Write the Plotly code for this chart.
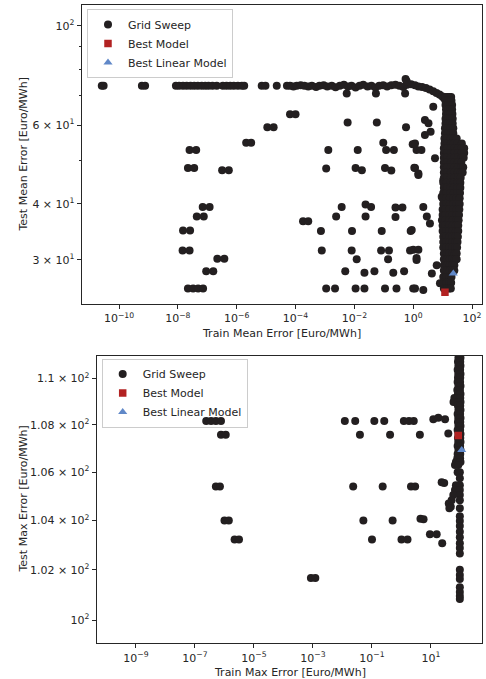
import plotly.graph_objects as go

# ---------------- Top panel: mean errors ----------------
train_mean_sweep = [
    # top plateau
    2.6e-11, 3.0e-11, 6.0e-10, 7.7e-10, 8.6e-9, 1.1e-8, 1.5e-8, 2.0e-8, 2.7e-8, 3.6e-8, 4.8e-8,
    6.5e-8, 8.5e-8, 1.1e-7, 1.5e-7, 2.1e-7, 3.4e-7, 4.5e-7, 6.0e-7, 8.0e-7, 1.1e-6, 1.5e-6, 1.8e-6,
    7.1e-6, 9.5e-6, 2.3e-5, 5.1e-5, 6.5e-5, 8.5e-5, 1.1e-4, 1.5e-4, 2.0e-4, 2.7e-4, 3.6e-4, 5.0e-4,
    6.5e-4, 9.0e-4, 1.2e-3, 1.7e-3, 2.3e-3, 3.2e-3, 4.4e-3, 6.0e-3, 8.0e-3, 1.1e-2, 1.5e-2, 2.0e-2,
    2.8e-2, 3.8e-2, 5.2e-2, 7.0e-2, 9.5e-2, 0.13, 0.18, 0.25, 0.34, 0.46, 0.62, 0.85, 1.15, 1.5,
    5.5e-3, 5.4e-2, 0.53, 0.55, 0.6,
    # bend
    2.0, 2.7, 3.6, 4.8, 6.2, 7.8, 9.5, 11, 12.5,
    # scattered (small train error)
    2.1e-6, 3.1e-6, 2.5e-8, 4.2e-8, 2.2e-8, 3.6e-8, 3.2e-7, 5.4e-7, 7.0e-8, 1.2e-7,
    4.4e-8, 7.6e-8, 1.5e-8, 2.6e-8, 1.45e-8, 2.5e-8, 2.2e-7, 3.8e-7, 9.2e-8, 1.6e-7,
    2.2e-8, 3.3e-8, 4.9e-8, 7.2e-8,
    # scattered (middle)
    6.5e-5, 1.0e-4, 1.1e-5, 1.8e-5, 5.9e-3, 5.8e-2, 0.57, 1.3e-3, 1.3e-2, 9.6e-2, 0.12, 0.22,
    0.96, 1.3, 1.1e-3, 1.1e-2, 1.8e-2, 0.11, 0.18, 1.09, 1.5, 3.7e-3, 2.4e-2, 3.7e-2, 0.25, 0.43,
    1.8e-4, 2.7e-4, 2.4e-3, 2.4e-2, 0.25, 7.3e-4, 8.3e-3, 8.5e-2, 0.82, 7.8e-4, 8.1e-3, 1.2e-2,
    8.1e-2, 0.15, 0.14, 0.78, 1.3, 4.9e-3, 2.2e-2, 4.8e-2, 0.21, 0.49, 1.1e-3, 2.2e-3, 1.1e-2,
    2.2e-2, 0.11, 0.27, 1.0,
    # scattered (near band)
    4.8, 2.5, 3.3, 3.9, 2.5, 1.15, 1.9, 5.5, 1.15, 1.5, 10.5, 2.2, 2.9, 3.7, 0.89, 9.3, 1.0, 1.5,
    1.3, 4.3, 6.3, 8.1, 1.15, 2.2,
    # dense band
    12.5, 14.5, 17, 19.5,
    12.5, 15, 17.5, 20,
    12.5, 15, 18, 21,
    13, 15.5, 18, 21,
    13, 15.5, 18.5, 21.5,
    12.5, 15, 18, 22,
    12.5, 15, 18.5, 22,
    12, 15, 18.5, 23,
    12, 15, 19, 23,
    11.5, 14.5, 19, 24, 30,
    11.5, 14.5, 19, 24, 32, 45,
    11, 14, 19, 25, 33, 44, 54,
    11, 14, 19, 25, 33, 44, 54,
    11, 14, 19, 25, 33, 43, 52,
    11, 14, 19, 25, 33, 43,
    11, 14, 19, 25, 33, 42, 50,
    11, 14.5, 19, 25, 33, 41, 48,
    11, 14, 19, 25, 33, 41,
    10.5, 13.5, 18, 24, 32, 40,
    11, 14, 18.5, 24, 32, 40,
    10.5, 13.5, 18, 24, 31, 39,
    10, 13, 17.5, 23, 30, 38,
    10.5, 13, 17.5, 23, 30, 38,
    10, 12.5, 17, 23, 30, 37,
    10, 12.5, 17, 22, 29, 36,
    9.5, 12.5, 16.5, 22, 29, 35,
    10, 12.5, 16.5, 22, 28, 34,
    10, 13, 16.5, 21, 28, 34,
    10.5, 13, 17, 21, 27, 33,
    10.5, 13, 17, 21, 27, 32,
    10.5, 13.5, 17, 21, 27, 31,
    11, 14, 17, 21, 26, 30,
    11, 14, 17.5, 21, 26, 30,
    11, 14, 17.5, 21, 25,
    11, 14, 17.5, 21, 25,
    10.5, 13.5, 17, 20,
    10.5, 13.5, 16.5, 19.5,
    11, 14, 16.5, 19,
]
test_mean_sweep = [
    # top plateau
    73.4, 73.4, 73.4, 73.4, 73.4, 73.4, 73.4, 73.4, 73.4, 73.4, 73.4,
    73.4, 73.4, 73.4, 73.4, 73.4, 73.4, 73.4, 73.4, 73.4, 73.4, 73.4, 73.4,
    73.4, 73.4, 73.4, 73.4, 73.4, 73.2, 73.4, 73.6, 73.4, 73.2, 73.4, 73.0,
    73.4, 73.6, 73.2, 73.4, 72.9, 73.4, 73.8, 73.2, 73.4, 72.8, 73.4, 73.8,
    73.2, 73.4, 72.8, 73.4, 73.6, 73.2, 73.6, 73.8, 73.4, 73.0, 73.8, 74.0, 73.6, 73.2,
    70.6, 70.6, 70.6, 76.0, 75.2,
    # bend
    73.0, 72.6, 72.0, 71.4, 70.8, 70.2, 69.6, 69.0, 68.4,
    # scattered (small train error)
    54.8, 54.8, 52.8, 52.8, 48.1, 48.1, 47.6, 47.6, 39.4, 39.4,
    37.5, 37.5, 34.9, 34.9, 31.5, 31.5, 30.2, 30.2, 28.3, 28.3,
    25.9, 25.9, 25.9, 25.9,
    # scattered (middle)
    63.4, 63.4, 59.3, 59.3, 60.8, 60.8, 59.3, 52.8, 52.8, 54.8, 52.8, 52.8,
    54.4, 52.8, 48.0, 48.1, 47.6, 48.1, 47.5, 48.2, 46.4, 39.4, 39.9, 39.4, 39.3, 39.3,
    36.6, 36.6, 37.5, 37.5, 37.4, 34.8, 34.8, 34.8, 34.8, 31.5, 31.5, 30.1,
    31.5, 31.5, 30.1, 31.5, 30.0, 28.3, 28.1, 28.3, 28.1, 28.3, 25.9, 25.9, 25.9,
    25.9, 25.9, 25.9, 25.9,
    # scattered (near band)
    65.9, 61.6, 60.6, 58.0, 57.0, 54.6, 52.8, 50.6, 48.1, 46.8, 45.2, 39.4, 37.5, 36.2, 35.0, 41.5,
    31.6, 31.6, 30.3, 28.0, 29.2, 26.6, 25.9, 25.7,
    # dense band
    69.3, 69.3, 69.3, 69.3,
    68.0, 68.0, 68.0, 68.0,
    66.5, 66.5, 66.5, 66.5,
    65.0, 65.0, 65.0, 65.0,
    63.5, 63.5, 63.5, 63.5,
    62.0, 62.0, 62.0, 62.0,
    60.5, 60.5, 60.5, 60.5,
    59.0, 59.0, 59.0, 59.0,
    57.5, 57.5, 57.5, 57.5,
    56.0, 56.0, 56.0, 56.0, 56.0,
    54.6, 54.6, 54.6, 54.6, 54.6, 54.6,
    53.3, 53.3, 53.3, 53.3, 53.3, 53.3, 53.3,
    52.0, 52.0, 52.0, 52.0, 52.0, 52.0, 52.0,
    50.7, 50.7, 50.7, 50.7, 50.7, 50.7, 50.7,
    49.5, 49.5, 49.5, 49.5, 49.5, 49.5,
    48.3, 48.3, 48.3, 48.3, 48.3, 48.3, 48.3,
    47.0, 47.0, 47.0, 47.0, 47.0, 47.0, 47.0,
    45.8, 45.8, 45.8, 45.8, 45.8, 45.8,
    44.6, 44.6, 44.6, 44.6, 44.6, 44.6,
    43.5, 43.5, 43.5, 43.5, 43.5, 43.5,
    42.3, 42.3, 42.3, 42.3, 42.3, 42.3,
    41.2, 41.2, 41.2, 41.2, 41.2, 41.2,
    40.0, 40.0, 40.0, 40.0, 40.0, 40.0,
    38.9, 38.9, 38.9, 38.9, 38.9, 38.9,
    37.8, 37.8, 37.8, 37.8, 37.8, 37.8,
    36.8, 36.8, 36.8, 36.8, 36.8, 36.8,
    35.8, 35.8, 35.8, 35.8, 35.8, 35.8,
    34.8, 34.8, 34.8, 34.8, 34.8, 34.8,
    33.8, 33.8, 33.8, 33.8, 33.8, 33.8,
    32.9, 32.9, 32.9, 32.9, 32.9, 32.9,
    32.0, 32.0, 32.0, 32.0, 32.0, 32.0,
    31.0, 31.0, 31.0, 31.0, 31.0, 31.0,
    30.1, 30.1, 30.1, 30.1, 30.1, 30.1,
    29.2, 29.2, 29.2, 29.2, 29.2,
    28.4, 28.4, 28.4, 28.4, 28.4,
    27.5, 27.5, 27.5, 27.5,
    26.7, 26.7, 26.7, 26.7,
    25.9, 25.9, 25.9, 25.9,
]
best_mean_train = [12.0]
best_mean_test = [25.4]
linear_mean_train = [23.0]
linear_mean_test = [28.0]

# ---------------- Bottom panel: max errors ----------------
train_max_sweep = [
    # scattered rows
    2.4e-7, 3.5e-7, 5.1e-7, 7.6e-7, 1.2e-2, 2.7e-2, 0.12, 0.26, 1.2, 1.8, 2.6, 12.0, 17.7, 30,
    7.6e-7, 1.1e-6, 3.9e-2, 0.41, 4.2, 38.6,
    5.1e-7, 7.0e-7, 2.3e-2, 0.23, 2.1, 2.9, 23, 28,
    1.0e-6, 1.4e-6, 5.1e-2, 0.50, 4.4, 5.6,
    2.2e-6, 3.1e-6, 0.10, 1.0, 1.6, 9.2, 15.6, 24,
    8.5e-4, 1.2e-3,
    # upper column
    85, 100, 82, 98, 85, 100, 80, 97, 84, 100, 82, 98, 80, 97, 85, 100, 78, 96, 82, 100,
    62, 80, 98, 58, 85, 100, 82, 98, 85, 100, 80, 97, 84, 100, 82, 98, 85, 100, 80, 97,
    85, 100, 82, 98, 84, 100, 80, 97, 85, 100, 80, 98, 78, 97, 70, 90, 100, 65, 84,
    # lower trail
    80, 95, 95, 70, 95, 65, 95, 57, 95, 50, 95, 40, 47, 42, 95,
    # lower column
    95, 95, 95, 95, 95, 95, 95, 95, 95, 95, 95, 95, 95, 95, 95,
]
test_max_sweep = [
    # scattered rows
    108.16, 108.16, 108.16, 108.16, 108.16, 108.16, 108.16, 108.16, 108.16, 108.16, 108.16,
    108.24, 108.3, 108.24,
    107.58, 107.58, 107.58, 107.58, 107.58, 107.63,
    105.4, 105.4, 105.4, 105.4, 105.4, 105.4, 105.58, 105.55,
    104.0, 104.0, 104.0, 104.0, 104.07, 104.05,
    103.23, 103.23, 103.23, 103.23, 103.23, 103.44, 103.44, 103.07,
    101.67, 101.67,
    # upper column
    110.89, 110.89, 110.72, 110.72, 110.54, 110.54, 110.37, 110.37, 110.19, 110.19,
    110.02, 110.02, 109.84, 109.84, 109.67, 109.67, 109.49, 109.49, 109.32, 109.32,
    109.15, 109.15, 109.15, 108.98, 108.98, 108.98, 108.81, 108.81, 108.63, 108.63,
    108.46, 108.46, 108.29, 108.29, 108.12, 108.12, 107.95, 107.95, 107.78, 107.78,
    107.61, 107.61, 107.44, 107.44, 107.27, 107.27, 107.10, 107.10, 106.93, 106.93,
    106.76, 106.76, 106.59, 106.59, 106.43, 106.43, 106.43, 106.3, 106.3,
    # lower trail
    106.0, 106.0, 105.75, 105.46, 105.46, 105.26, 105.26, 105.05, 105.05, 104.84, 104.84,
    104.70, 104.57, 104.5, 104.5,
    # lower column
    104.18, 103.98, 103.78, 103.54, 103.32, 103.07, 102.88, 102.66, 102.0, 101.79,
    101.63, 101.30, 101.11, 100.95, 100.83,
]
best_max_train = [84.0]
best_max_test = [107.55]
linear_max_train = [110.0]
linear_max_test = [106.93]

# ---------------- Tick labels ----------------
top_x_ticks = [1e-10, 1e-8, 1e-6, 1e-4, 1e-2, 1e0, 1e2]
top_x_labels = ["10<sup>−10</sup>", "10<sup>−8</sup>", "10<sup>−6</sup>", "10<sup>−4</sup>",
                "10<sup>−2</sup>", "10<sup>0</sup>", "10<sup>2</sup>"]
top_y_ticks = [30, 40, 60, 100]
top_y_labels = ["3 × 10<sup>1</sup>", "4 × 10<sup>1</sup>", "6 × 10<sup>1</sup>", "10<sup>2</sup>"]
top_y_minor = [50, 70, 80, 90]
bot_x_ticks = [1e-9, 1e-7, 1e-5, 1e-3, 1e-1, 1e1]
bot_x_labels = ["10<sup>−9</sup>", "10<sup>−7</sup>", "10<sup>−5</sup>", "10<sup>−3</sup>",
                "10<sup>−1</sup>", "10<sup>1</sup>"]
bot_y_ticks = [100, 102, 104, 106, 108, 110]
bot_y_labels = ["10<sup>2</sup>", "1.02 × 10<sup>2</sup>", "1.04 × 10<sup>2</sup>",
                "1.06 × 10<sup>2</sup>", "1.08 × 10<sup>2</sup>", "1.1 × 10<sup>2</sup>"]

INK = "#262626"
DOT = "#231f20"
RED = "#b22222"
BLUE = "#6088c8"
FS = 11
W, H = 486, 679

fig = go.Figure()


def add_panel(xs, ys, bx, by, lx, ly, xa, ya, leg):
    fig.add_trace(go.Scatter(x=xs, y=ys, mode="markers", name="Grid Sweep",
                             marker=dict(color=DOT, size=8, symbol="circle", line=dict(width=0)),
                             xaxis=xa, yaxis=ya, legend=leg))
    fig.add_trace(go.Scatter(x=bx, y=by, mode="markers", name="Best Model",
                             marker=dict(color=RED, size=7.5, symbol="square", line=dict(width=0)),
                             xaxis=xa, yaxis=ya, legend=leg))
    fig.add_trace(go.Scatter(x=lx, y=ly, mode="markers", name="Best Linear Model",
                             marker=dict(color=BLUE, size=8, symbol="triangle-up", line=dict(width=0)),
                             xaxis=xa, yaxis=ya, legend=leg))


add_panel(train_mean_sweep, test_mean_sweep, best_mean_train, best_mean_test,
          linear_mean_train, linear_mean_test, "x", "y", "legend")
add_panel(train_max_sweep, test_max_sweep, best_max_train, best_max_test,
          linear_max_train, linear_max_test, "x2", "y2", "legend2")

axis_common = dict(showline=True, linecolor=INK, linewidth=1, mirror=True, ticks="outside",
                   ticklen=4, tickwidth=1, tickcolor=INK, showgrid=False, zeroline=False,
                   tickfont=dict(family="DejaVu Sans", size=FS, color=INK), tickmode="array")
legend_common = dict(xanchor="left", yanchor="top",
                     bordercolor="#cccccc", borderwidth=1,
                     font=dict(family="DejaVu Sans", size=FS, color=INK), tracegroupgap=0)

fig.update_layout(
    width=W, height=H,
    margin=dict(l=0, r=0, t=0, b=0),
    paper_bgcolor="white", plot_bgcolor="white",
    font=dict(family="DejaVu Sans", size=FS, color=INK),
    xaxis=dict(type="log", domain=[81.7 / W, 482 / W], range=[-11.268, 2.338], anchor="y",
               tickvals=top_x_ticks, ticktext=top_x_labels, **axis_common),
    yaxis=dict(type="log", domain=[(H - 304) / H, (H - 5) / H], range=[1.3788, 2.0462], anchor="x",
               tickvals=top_y_ticks, ticktext=top_y_labels,
               minor=dict(tickmode="array", tickvals=top_y_minor, ticks="outside", ticklen=2,
                          tickcolor=INK, tickwidth=1), **axis_common),
    xaxis2=dict(type="log", domain=[96.7 / W, 482 / W], range=[-10.332, 2.729], anchor="y2",
                tickvals=bot_x_ticks, ticktext=bot_x_labels, **axis_common),
    yaxis2=dict(type="log", domain=[(H - 643.3) / H, (H - 355.7) / H], range=[1.99601, 2.04526],
                anchor="x2", tickvals=bot_y_ticks, ticktext=bot_y_labels, **axis_common),
    legend=dict(x=87 / W, y=(H - 9) / H, bgcolor="rgba(255,255,255,0.8)", **legend_common),
    legend2=dict(x=101.7 / W, y=(H - 358.5) / H, bgcolor="rgba(255,255,255,0)", **legend_common),
    showlegend=True,
)

title_font = dict(family="DejaVu Sans", size=FS, color=INK)
fig.add_annotation(text="Train Mean Error [Euro/MWh]", x=281.7 / W, y=(H - 333.3) / H,
                   xref="paper", yref="paper", showarrow=False, font=title_font,
                   xanchor="center", yanchor="middle")
fig.add_annotation(text="Test Mean Error [Euro/MWh]", x=23 / W, y=(H - 154.5) / H,
                   xref="paper", yref="paper", showarrow=False, font=title_font, textangle=-90,
                   xanchor="center", yanchor="middle")
fig.add_annotation(text="Train Max Error [Euro/MWh]", x=289.5 / W, y=(H - 672.3) / H,
                   xref="paper", yref="paper", showarrow=False, font=title_font,
                   xanchor="center", yanchor="middle")
fig.add_annotation(text="Test Max Error [Euro/MWh]", x=23 / W, y=(H - 499.5) / H,
                   xref="paper", yref="paper", showarrow=False, font=title_font, textangle=-90,
                   xanchor="center", yanchor="middle")

assert len(train_mean_sweep) == len(test_mean_sweep)
assert len(train_max_sweep) == len(test_max_sweep)

fig.write_html("out.html")
